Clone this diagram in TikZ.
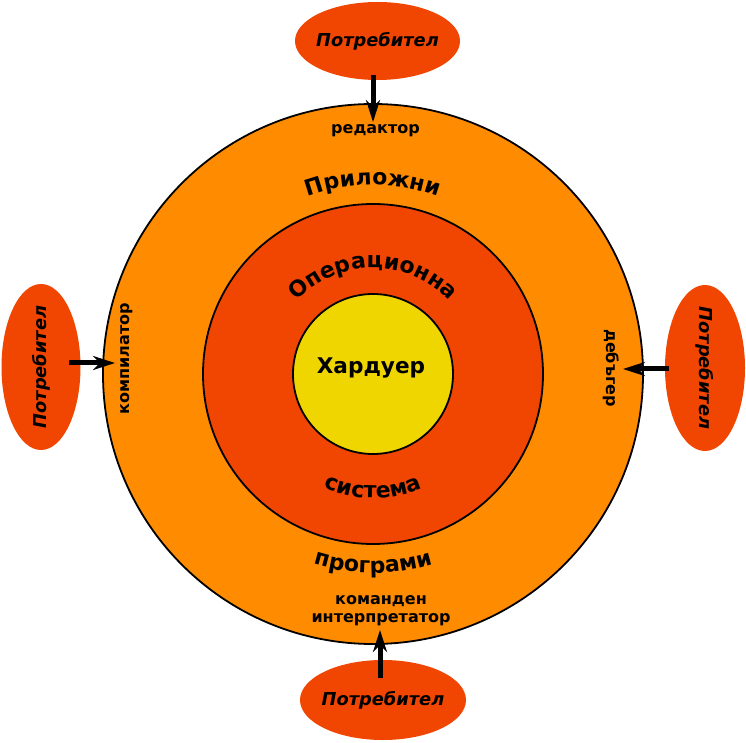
\documentclass[tikz,border=0pt]{standalone}
\usepackage{fontspec}
\setmainfont{DejaVu Sans}
\usetikzlibrary{arrows.meta,decorations.text,shapes.geometric}
\definecolor{orangeA}{RGB}{255,139,0}
\definecolor{redA}{RGB}{240,70,2}
\definecolor{yellowA}{RGB}{240,214,0}
\begin{document}
\begin{tikzpicture}[x=1pt,y=1pt,
 ring/.style={circle, draw=black, line width=1.8pt, inner sep=0pt},
 user/.style={ellipse, fill=redA, inner sep=-12pt, font=\bfseries\itshape\fontsize{17.8}{21}\selectfont},
 arr/.style={line width=5pt, -{Stealth[length=22pt,width=14pt,inset=7pt]}},
 lbl/.style={font=\bfseries\fontsize{16}{18.3}\selectfont, inner sep=0pt},
 arcfont/.style={decoration={text along path, text align=center,
   text format delimiters={[}{]}, text={[\bfseries\fontsize{22}{26}\selectfont]#1}}, decorate}]
\useasboundingbox (0,0) rectangle (746,742);
\node[ring, fill=orangeA, minimum size=540] (outer) at (373,368) {};
\node[ring, fill=redA, minimum size=340] (mid) at (373,368) {};
\node[ring, fill=yellowA, minimum size=160] (inner) at (373,368) {};
\node[anchor=base, inner sep=0pt, font=\bfseries\fontsize{21.6}{25}\selectfont] (hw) at (371,368) {Хардуер};
% curved texts
\path[arcfont=Приложни]
  (outer.center) ++(180:189) arc[start angle=180, end angle=0, radius=189];
\path[arcfont=програми]
  (outer.center) ++(180:199) arc[start angle=180, end angle=360, radius=199];
\path[arcfont=Операционна]
  (outer.center) ++(180:106) arc[start angle=180, end angle=0, radius=106];
\path[arcfont=система]
  (outer.center) ++(180:124) arc[start angle=180, end angle=360, radius=124];
% users
\node[user, minimum width=165, minimum height=78] (utop) at (377.5,701) {Потребител};
\node[user, minimum width=166, minimum height=80] (ubot) at (383,42) {Потребител};
\node[user, rotate=90, minimum width=166, minimum height=79] (uleft) at (41,375) {Потребител};
\node[user, rotate=-90, minimum width=166, minimum height=80] (uright) at (705,374) {Потребител};
% tool labels
\node[lbl, anchor=base] (ed) at (375.5,608) {редактор};
\node[lbl, rotate=90] (comp) at (126.5,383.5) {компилатор};
\node[lbl, rotate=-90] (dbg) at (611,374) {дебъгер};
\node[lbl, align=center] (sh) at (381,131) {команден\\интерпретатор};
% arrows
\coordinate (tS) at (373,667); \coordinate (tE) at (373,620);
\coordinate (lS) at (69,379);  \coordinate (lE) at (115,379);
\coordinate (rS) at (669,373); \coordinate (rE) at (623,373);
\coordinate (bS) at (380,64);  \coordinate (bE) at (380,112);
\draw[arr] (tS) -- (tE);
\draw[arr] (lS) -- (lE);
\draw[arr] (rS) -- (rE);
\draw[arr] (bS) -- (bE);
\end{tikzpicture}
\end{document}
